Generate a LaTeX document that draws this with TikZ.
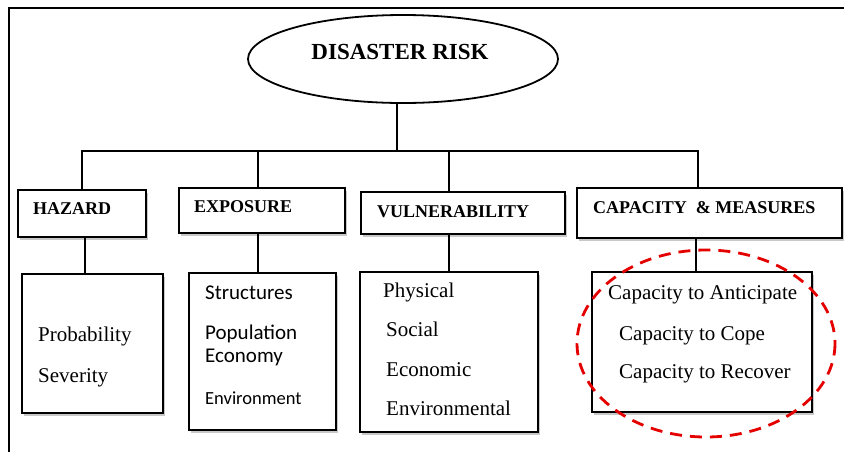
\documentclass[tikz,border=0pt]{standalone}
\usepackage{fontspec}
\setmainfont{Liberation Serif}
\newfontfamily\bodysans{Carlito}
\usetikzlibrary{shapes.geometric,shadows}
\begin{document}
\begin{tikzpicture}[x=1pt,y=-1pt,
  outline/.style={draw=black, line width=1.8pt},
  box/.style={rectangle, draw=black, line width=1.8pt, fill=white, inner sep=0pt,
    drop shadow={shadow xshift=2pt, shadow yshift=-2.5pt, opacity=0.3, fill=black!70}},
  link/.style={draw=black, line width=1.8pt},
  title/.style={font=\fontsize{23}{23}\selectfont\bfseries, anchor=base, inner sep=0pt},
  head/.style={font=\fontsize{18}{18}\selectfont\bfseries, anchor=base west, inner sep=0pt},
  item/.style={font=\fontsize{21}{21}\selectfont, anchor=base west, inner sep=0pt},
  sitem/.style={font=\bodysans\fontsize{21}{21}\selectfont, anchor=base west, inner sep=0pt},
  focus/.style={draw=red!90!black, line width=2.8pt, dash pattern=on 12pt off 8pt},
]
\useasboundingbox (0,0) rectangle (844,451);
\clip (0,0) rectangle (844,451);
\fill[white] (0,0) rectangle (844,451);

% outer frame
\draw[outline] (9,8) rectangle (880,490);

% top concept
\node[ellipse, outline, fill=white, minimum width=310pt, minimum height=88pt, inner sep=0pt]
  (risk) at (403,59) {};
\node[title] (risklabel) at (400,59.3) {DISASTER RISK};

% category boxes
\node[box, minimum width=128pt, minimum height=47pt] (haz) at (82,213.5) {};
\node[box, minimum width=166pt, minimum height=45pt] (exp) at (262,210.5) {};
\node[box, minimum width=204pt, minimum height=42pt] (vul) at (463,213) {};
\node[box, minimum width=265pt, minimum height=50pt] (cap) at (709.5,213) {};

\node[head] (hazlabel) at (33,214) {HAZARD};
\node[head] (explabel) at (194,212.7) {EXPOSURE};
\node[head] (vullabel) at (377,217.7) {VULNERABILITY};
\node[head] (caplabel) at (593,213.3) {CAPACITY \ \& MEASURES};

% detail boxes
\node[box, minimum width=141pt, minimum height=139pt] (haz2) at (92.5,343.5) {};
\node[box, minimum width=147pt, minimum height=157pt] (exp2) at (262.5,351.5) {};
\node[box, minimum width=178pt, minimum height=160pt] (vul2) at (449,352) {};
\node[box, minimum width=220pt, minimum height=140pt] (cap2) at (702,342) {};

\node[item] (prob) at (38,341.7) {Probability};
\node[item] (sev) at (38,382.7) {Severity};

\node[sitem] (struct) at (205,299.3) {Structures};
\node[sitem] (pop) at (205,339) {Population};
\node[sitem] (econ) at (205,362.3) {Economy};
\node[sitem, font=\bodysans\fontsize{18.5}{18.5}\selectfont] (env) at (205,404.3) {Environment};

\node[item] (phys) at (383,297) {Physical};
\node[item] (soc) at (386,336.7) {Social};
\node[item] (eco) at (386,376) {Economic};
\node[item] (envl) at (386,415) {Environmental};

\node[item] (antic) at (608,299.3) {Capacity to Anticipate};
\node[item] (cope) at (619,340) {Capacity to Cope};
\node[item] (recov) at (619,378.3) {Capacity to Recover};

% tree connectors
\coordinate (bus) at (397,151);
\coordinate (busL) at (82,151);
\coordinate (busR) at (698,151);
\coordinate (d2) at (258,151);
\coordinate (d3) at (449,151);
\draw[link] (risk.south -| bus) -- (bus);
\draw[link] (busL |- haz.north) -- (busL) -- (busR) -- (busR |- cap.north);
\draw[link] (d2) -- (d2 |- exp.north);
\draw[link] (d3) -- (d3 |- vul.north);

\coordinate (l1) at (85,0);
\coordinate (l2) at (258,0);
\coordinate (l3) at (449,0);
\coordinate (l4) at (696,0);
\draw[link] (l1 |- haz.south) -- (l1 |- haz2.north);
\draw[link] (l2 |- exp.south) -- (l2 |- exp2.north);
\draw[link] (l3 |- vul.south) -- (l3 |- vul2.north);
\draw[link] (l4 |- cap.south) -- (l4 |- cap2.north);

% highlight around the capacity box
\draw[focus] (706,343.5) ellipse [x radius=129, y radius=93.5];
\end{tikzpicture}
\end{document}
